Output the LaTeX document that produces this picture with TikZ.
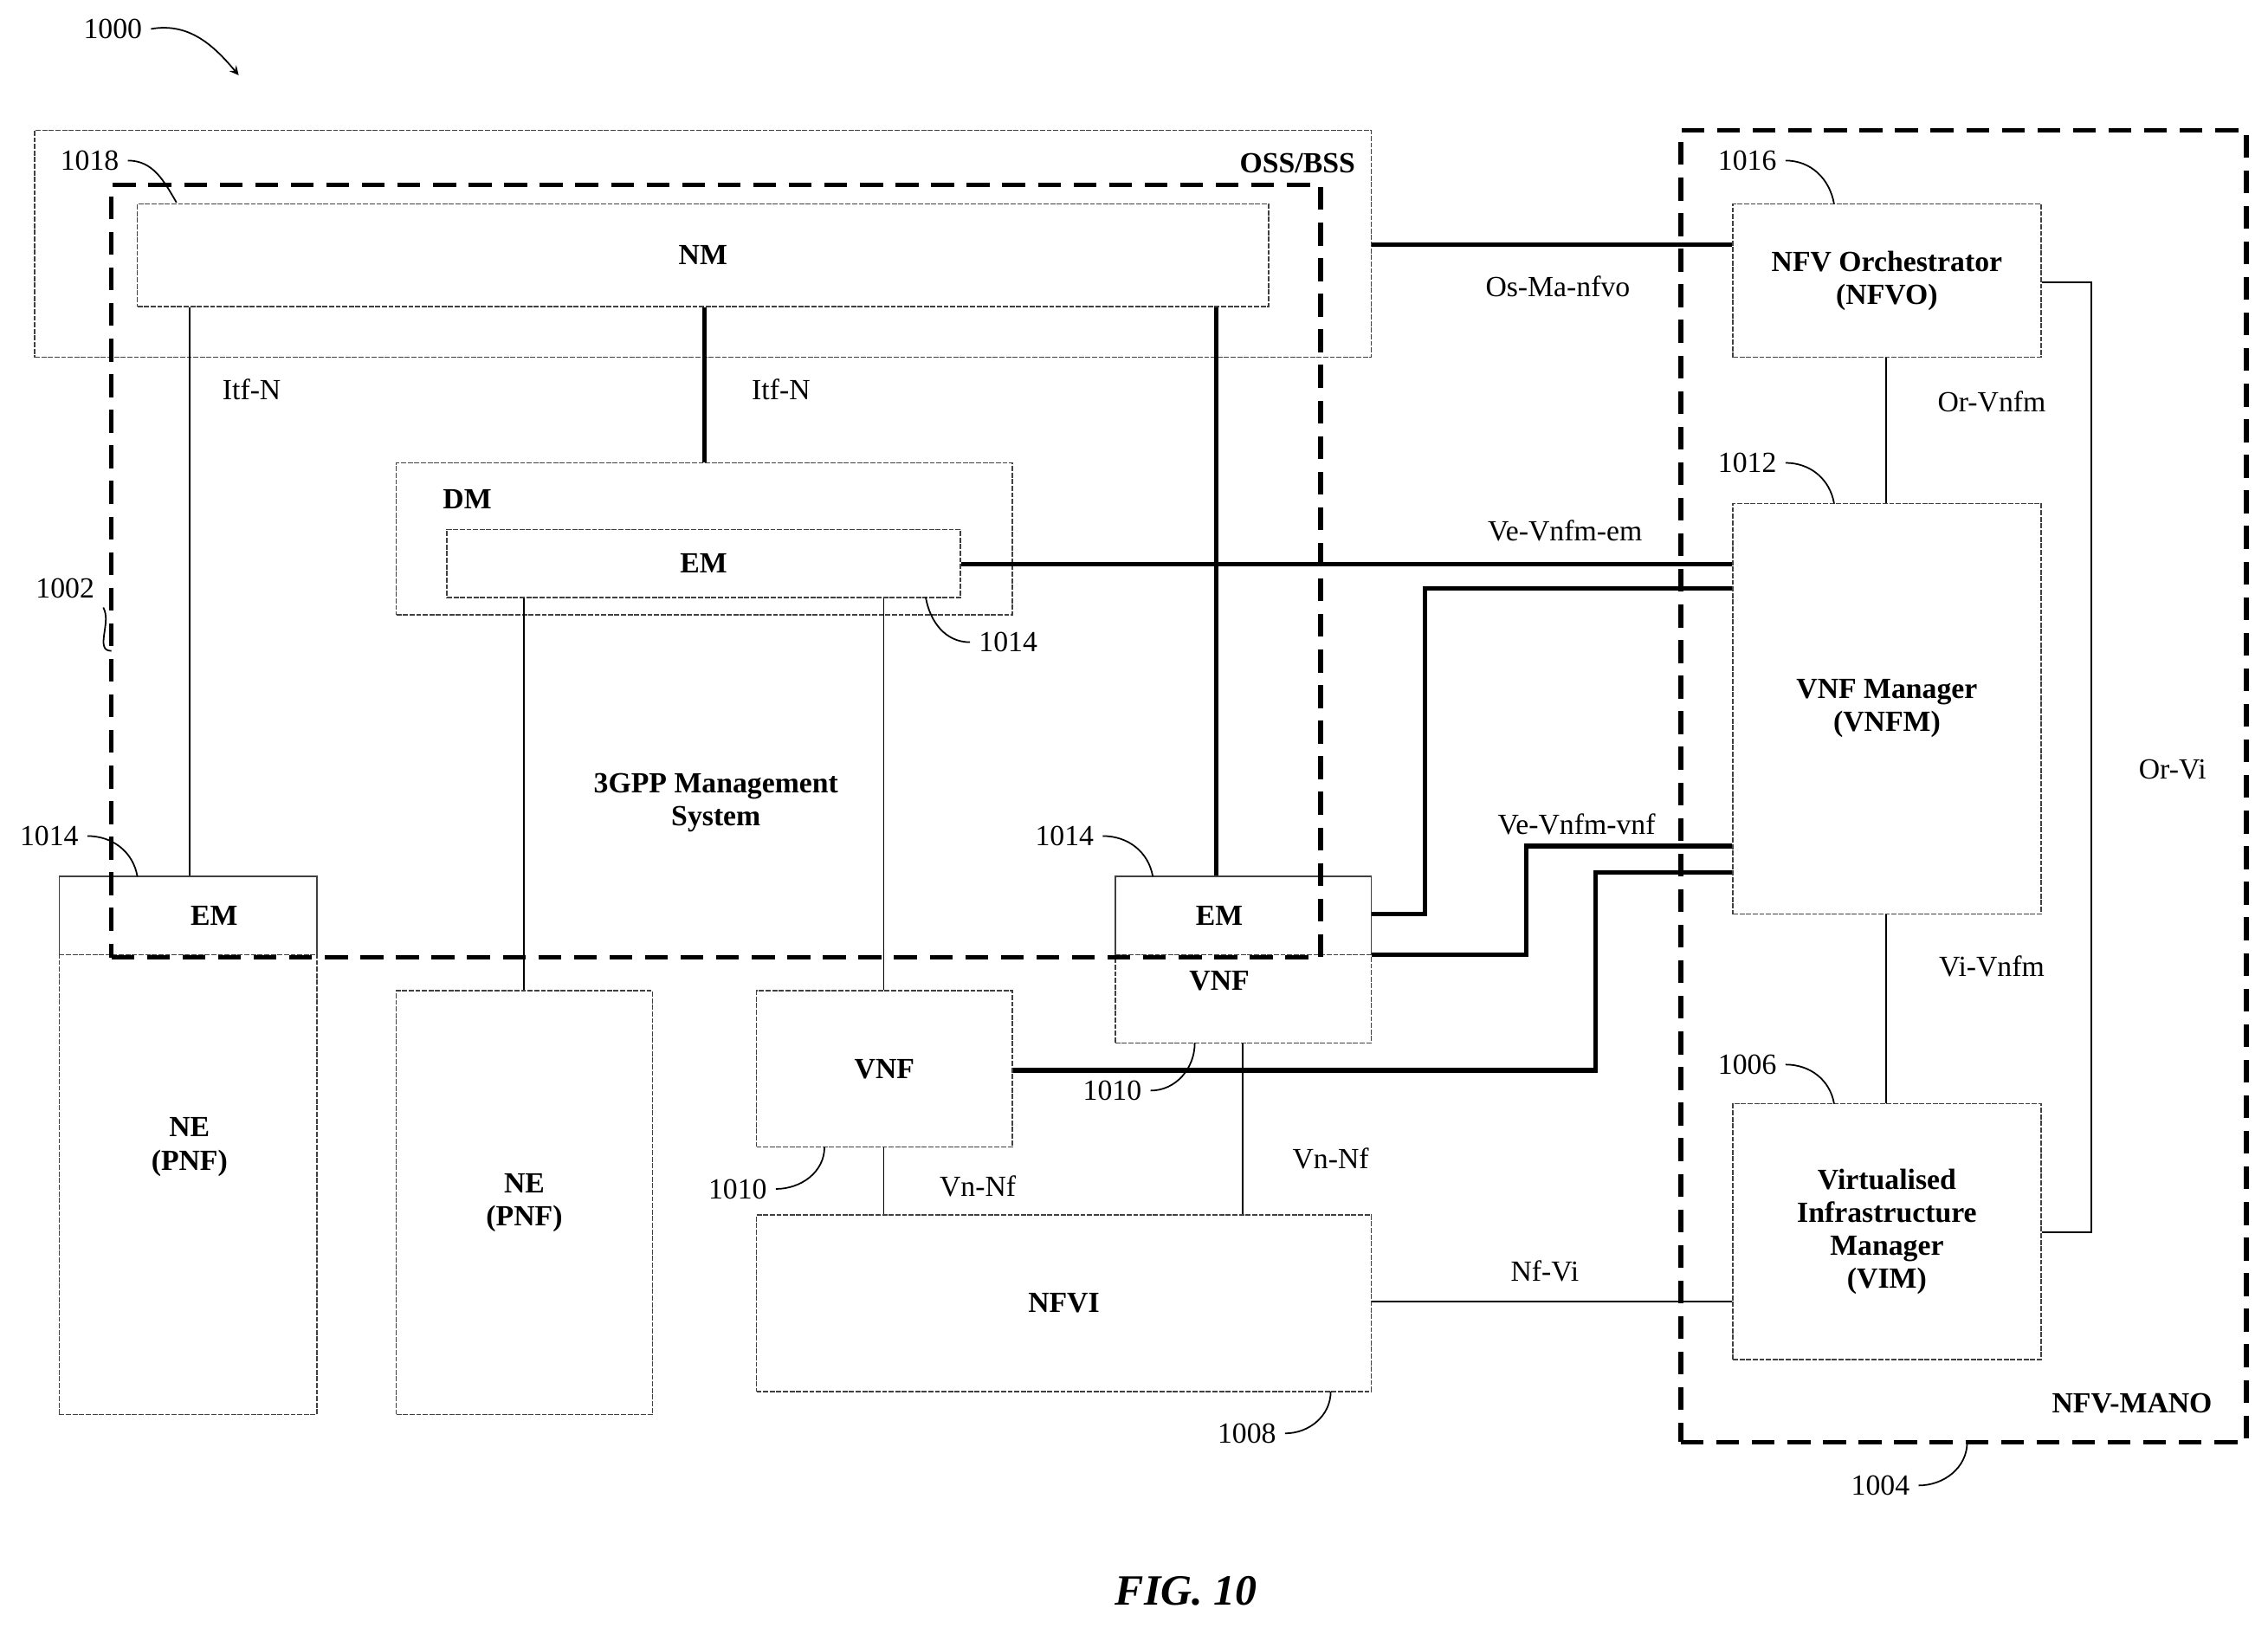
\documentclass[tikz,border=0pt]{standalone}
\usepackage{fontspec}
\setmainfont{Liberation Serif}
\usetikzlibrary{fit, positioning}
\tikzset{
	box/.style = {draw=black!75, line width=0.5pt, dash pattern=on 2pt off 0.6pt, inner sep=0pt},
	frame/.style = {draw, line width=1.8pt, dash pattern=on 9pt off 5pt},
	link/.style = {line width=1.8pt},
	thin/.style = {line width=0.6pt},
	lab/.style = {font=\fontsize{11.5}{13}\selectfont},
	blab/.style = {font=\fontsize{11.5}{13}\selectfont\bfseries, align=center},
	lead/.style = {line width=0.6pt}
}

\begin{document}
\begin{tikzpicture}[x=0.02cm, y=-0.02cm]
	\useasboundingbox (0,0) rectangle (1568,1125);

	% boxes
	\node (oss) [box, fit={(24,90)(948,247)}] {};
	\node (nm) [box, fit={(95,141)(877,212)}, label={[blab]center:NM}] {};
	\node (dm) [box, fit={(274,320)(700,425)}] {};
	\node (emdm) [box, fit={(309,366)(664,413)}, label={[blab]center:EM}] {};
	\node (ne1) [box, fit={(41,606)(219,978)}] {};
	\node (em1) [box, fit={(41,606)(219,660)}] {};
	\node (ne2) [box, fit={(274,685)(451,978)}, label={[blab]center:NE\\(PNF)}] {};
	\node (vnf2) [box, fit={(771,606)(948,721)}] {};
	\node (em2) [box, fit={(771,606)(948,660)}] {};
	\node (vnf1) [box, fit={(523,685)(700,793)}, label={[blab]center:VNF}] {};
	\node (nfvi) [box, fit={(523,840)(948,962)}, label={[blab]center:NFVI}] {};
	\node (nfvo) [box, fit={(1198,141)(1411,247)}, label={[blab]center:NFV Orchestrator\\(NFVO)}] {};
	\node (vnfm) [box, fit={(1198,348)(1411,632)}, label={[blab]center:VNF Manager\\(VNFM)}] {};
	\node (vim) [box, fit={(1198,763)(1411,940)}, label={[blab]center:Virtualised\\Infrastructure\\Manager\\(VIM)}] {};
	\node [blab] at (148,633) {EM};
	\node [blab] at (843,633) {EM};
	\node [blab] at (131,793) {NE\\(PNF)};
	\node [blab] at (843,678) {VNF};
	\node [blab] at (897,113) {OSS/BSS};
	\node [blab] at (323,345) {DM};
	\node [blab] at (495,555) {3GPP Management\\System};

	% dashed frames
	\node (sys) [frame, fit={(77,128)(913,662)}, inner sep=0pt] {};
	\node (mano) [frame, fit={(1162,90)(1553,997)}, inner sep=0pt] {};
	\node [blab] at (1474,970) {NFV-MANO};

	% thick links
	\draw [link] (oss.east |- 0,169) -- (nfvo.west |- 0,169);
	\draw [link] (nm.south -| 487,0) -- (dm.north -| 487,0);
	\draw [link] (nm.south -| 841,0) -- (em2.north -| 841,0);
	\draw [link] (emdm.east |- 0,390) -- (vnfm.west |- 0,390);
	\draw [link] (em2.east |- 0,632) -| (985,407) -- (vnfm.west |- 0,407);
	\draw [link] (vnf2.east |- 0,660) -| (1055,585) -- (vnfm.west |- 0,585);
	\draw [link] (vnf1.east |- 0,740) -| (1103,603) -- (vnfm.west |- 0,603);

	% thin links
	\draw [thin] (nm.south -| 131,0) -- (em1.north -| 131,0);
	\draw [thin] (emdm.south -| 362,0) -- (ne2.north -| 362,0);
	\draw [thin] (emdm.south -| 611,0) -- (vnf1.north -| 611,0);
	\draw [thin] (vnf1.south -| 611,0) -- (nfvi.north -| 611,0);
	\draw [thin] (vnf2.south -| 859,0) -- (nfvi.north -| 859,0);
	\draw [thin] (nfvi.east |- 0,900) -- (vim.west |- 0,900);
	\draw [thin] (nfvo.south -| 1304,0) -- (vnfm.north -| 1304,0);
	\draw [thin] (vnfm.south -| 1304,0) -- (vim.north -| 1304,0);
	\draw [thin] (nfvo.east |- 0,195) -| (1446,852) -- (vim.east |- 0,852);

	% interface labels
	\node [lab] at (174,269) {Itf-N};
	\node [lab] at (540,269) {Itf-N};
	\node [lab] at (1077,198) {Os-Ma-nfvo};
	\node [lab] at (1377,278) {Or-Vnfm};
	\node [lab] at (1502,532) {Or-Vi};
	\node [lab] at (1377,668) {Vi-Vnfm};
	\node [lab] at (1082,367) {Ve-Vnfm-em};
	\node [lab] at (1090,570) {Ve-Vnfm-vnf};
	\node [lab] at (676,820) {Vn-Nf};
	\node [lab] at (920,801) {Vn-Nf};
	\node [lab] at (1068,879) {Nf-Vi};

	% reference numerals
	\node (r1000) [lab] at (78,20) {1000};
	\draw [lead, ->, >=stealth] (r1000.east) to[out=10,in=130] (165,52);
	\node (r1018) [lab] at (62,111) {1018};
	\draw [lead] (r1018.east) to[out=0,in=120] (122,140);
	\node (r1002) [lab] at (45,407) {1002};
	\draw [lead] (r1002.south east) to[out=-60,in=180] (77,450);
	\node (r1014a) [lab] at (34,578) {1014};
	\draw [lead] (r1014a.east) to[out=0,in=100] (95,606);
	\node (r1014b) [lab] at (697,444) {1014};
	\draw [lead] (r1014b.west) to[out=180,in=-80] (640,413);
	\node (r1014c) [lab] at (736,578) {1014};
	\draw [lead] (r1014c.east) to[out=0,in=100] (797,606);
	\node (r1016) [lab] at (1208,111) {1016};
	\draw [lead] (r1016.east) to[out=0,in=100] (1268,141);
	\node (r1012) [lab] at (1208,320) {1012};
	\draw [lead] (r1012.east) to[out=0,in=100] (1268,348);
	\node (r1006) [lab] at (1208,736) {1006};
	\draw [lead] (r1006.east) to[out=0,in=100] (1268,763);
	\node (r1010a) [lab] at (769,754) {1010};
	\draw [lead] (r1010a.east) to[out=0,in=-90] (826,721);
	\node (r1010b) [lab] at (510,822) {1010};
	\draw [lead] (r1010b.east) to[out=0,in=-90] (570,793);
	\node (r1008) [lab] at (862,991) {1008};
	\draw [lead] (r1008.east) to[out=0,in=-90] (920,962);
	\node (r1004) [lab] at (1300,1027) {1004};
	\draw [lead] (r1004.east) to[out=0,in=-90] (1360,997);

	\node [font=\fontsize{17}{20}\selectfont\bfseries\itshape] at (820,1100) {FIG. 10};
\end{tikzpicture}
\end{document}
